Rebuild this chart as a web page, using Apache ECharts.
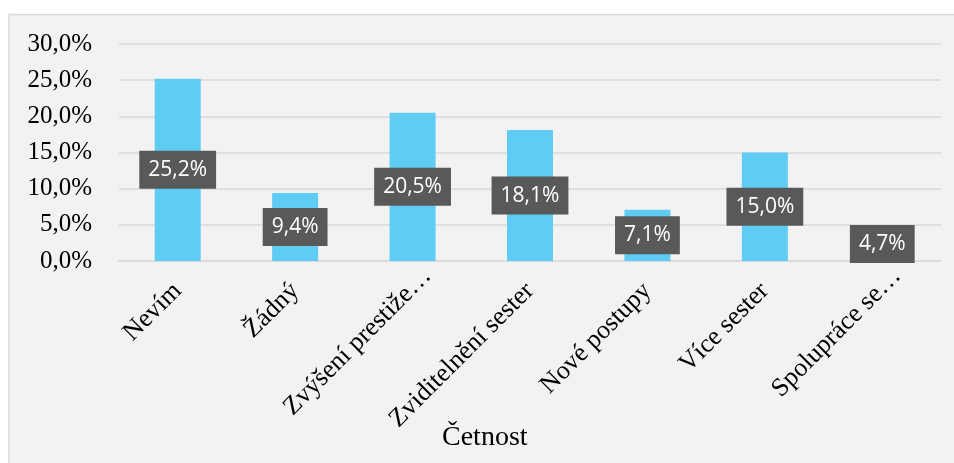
<!DOCTYPE html>
<html>
<head>
<meta charset="utf-8">
<script src="https://cdn.jsdelivr.net/npm/echarts@6/dist/echarts.min.js"></script>
<style>
html,body{margin:0;padding:0;background:#fff;}
#c{width:954px;height:463px;}
</style>
</head>
<body>
<div id="c"></div>
<script>
const categories = ['Nevím', 'Žádný', 'Zvýšení prestiže…', 'Zviditelnění sester', 'Nové postupy', 'Více sester', 'Spolupráce se…'];
const values = [25.2, 9.4, 20.5, 18.1, 7.1, 15.0, 4.7];
const axisTitle = 'Četnost';
const yMin = 0, yMax = 30, yStep = 5;

const fmt = v => v.toFixed(1).replace('.', ',') + '%';

const chart = echarts.init(document.getElementById('c'), null, {renderer: 'canvas'});
chart.setOption({
  backgroundColor: '#ffffff',
  animation: false,
  graphic: [{
    type: 'rect', z: -10, silent: true,
    shape: {x: 9, y: 14.5, width: 960, height: 460},
    style: {fill: '#F2F2F2', stroke: '#D9D9D9', lineWidth: 1.5}
  }],
  title: {
    text: axisTitle, left: 442, top: 424, padding: 0,
    textStyle: {fontFamily: 'Liberation Serif', fontSize: 28, fontWeight: 'normal', color: '#000'}
  },
  grid: {left: 119, right: 13, top: 44, bottom: 202, containLabel: false},
  xAxis: {
    type: 'category', data: categories,
    axisLine: {show: true, lineStyle: {color: '#D9D9D9', width: 1.5}},
    axisTick: {show: false},
    axisLabel: {
      interval: 0, rotate: 45, margin: 26,
      fontFamily: 'Liberation Serif', fontSize: 26, color: '#000',
      formatter: v => v.endsWith('…') ? '{e|' + v + '}' : v,
      rich: {
        e: {fontFamily: 'Liberation Serif', fontSize: 26, color: '#000', padding: [0, -21, 0, 0]}
      }
    }
  },
  yAxis: {
    type: 'value', min: yMin, max: yMax, interval: yStep,
    axisLine: {show: false}, axisTick: {show: false},
    splitLine: {lineStyle: {color: '#D9D9D9', width: 1.5}},
    axisLabel: {
      formatter: v => fmt(v), margin: 27,
      fontFamily: 'Liberation Serif', fontSize: 25, color: '#000'
    }
  },
  series: [{
    type: 'bar', data: values, barWidth: 46,
    itemStyle: {color: '#5FCDF3'},
    label: {
      show: true, position: 'inside',
      formatter: p => fmt(p.value),
      fontFamily: 'Open Sans', fontSize: 21, color: '#fff', lineHeight: 22,
      backgroundColor: '#595959', padding: [9, 9, 7, 9]
    }
  }]
});
</script>
</body>
</html>
